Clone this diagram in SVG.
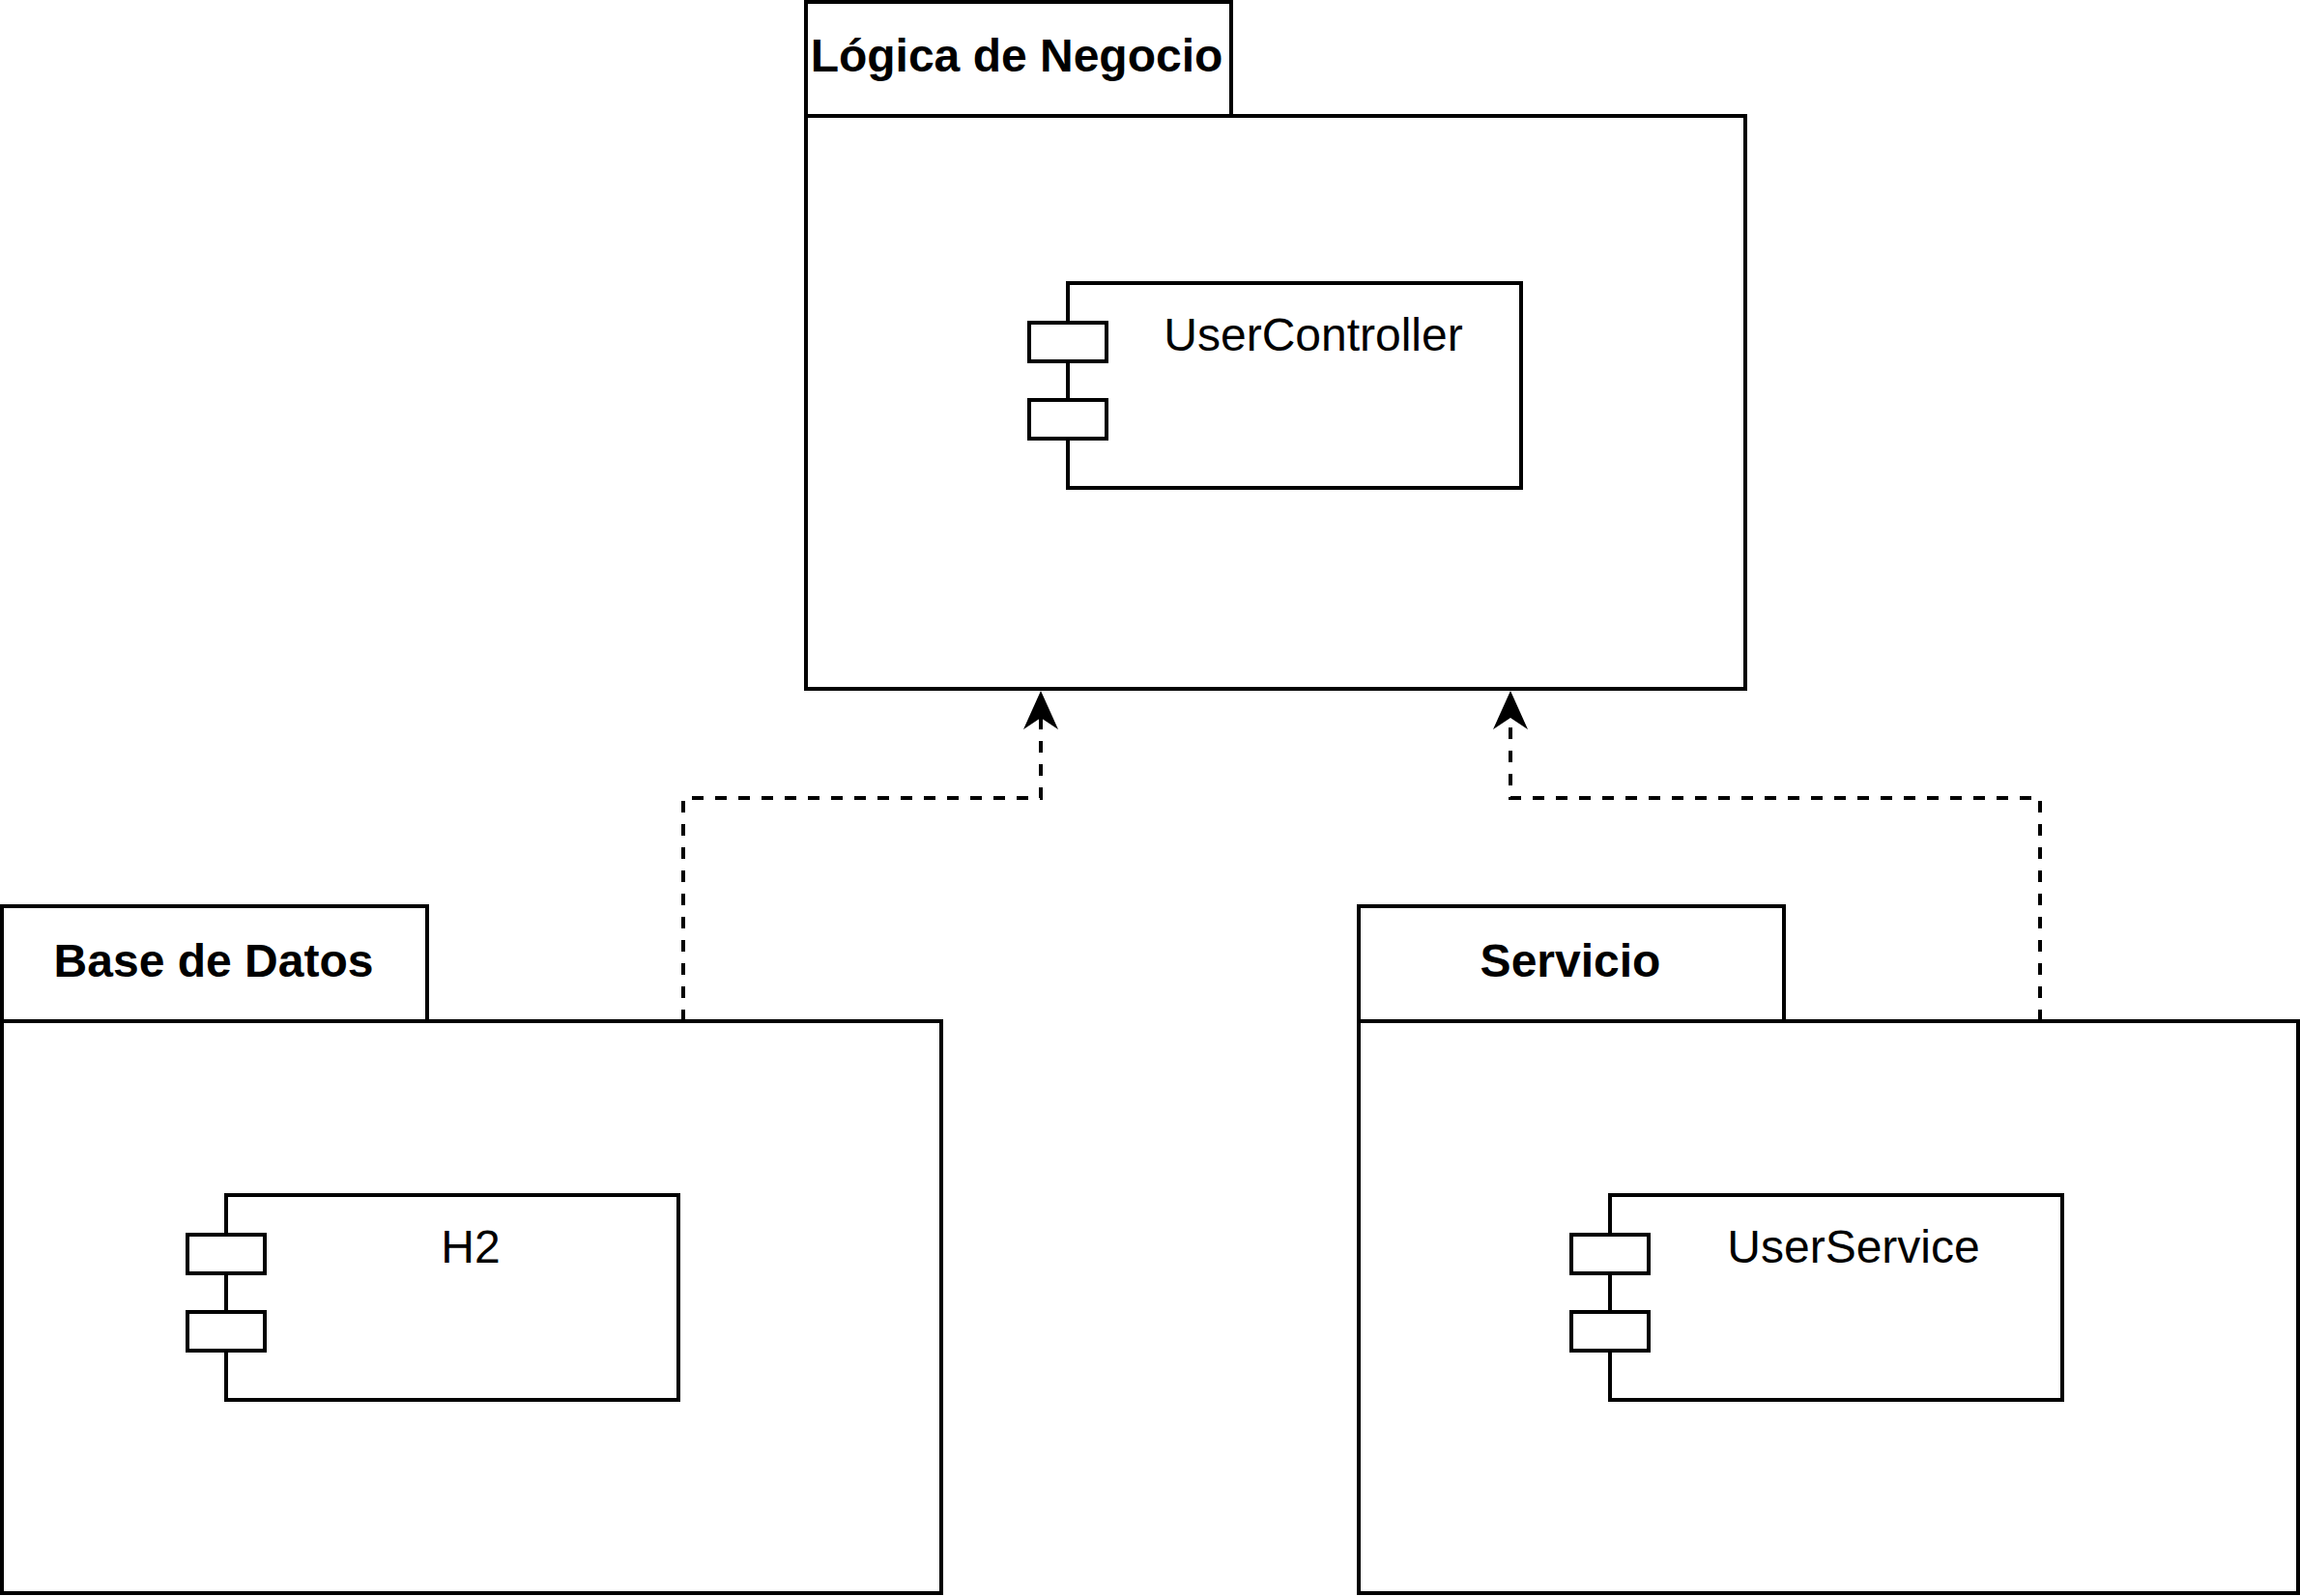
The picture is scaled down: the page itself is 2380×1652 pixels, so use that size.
<svg xmlns="http://www.w3.org/2000/svg" width="2380" height="1652" viewBox="0 0 2380 1652">
<style>
.box{fill:#fff;stroke:#000;stroke-width:4}
.pkg{font-family:"Liberation Sans",Arial,Helvetica,sans-serif;font-size:48px;font-weight:bold;fill:#000;text-anchor:middle}
.cmp{font-family:"Liberation Sans",Arial,Helvetica,sans-serif;font-size:48px;fill:#000;text-anchor:middle}
.dep{fill:none;stroke:#000;stroke-width:4;stroke-dasharray:12 12;marker-end:url(#arrow)}
</style>
<defs>
<marker id="arrow" markerUnits="userSpaceOnUse" viewBox="-14 -20 44 40" refX="0" refY="0" markerWidth="44" markerHeight="40" orient="auto">
<path d="M28,0 L-12,-18 L0,0 L-12,18 Z" fill="#000"/>
</marker>
</defs>
<rect width="2380" height="1652" fill="#fff"/>
<g id="pkg-logica">
<rect class="box" x="834" y="2" width="440" height="118"/>
<rect class="box" x="834" y="120" width="972" height="593"/>
<text class="pkg" x="1052" y="74">Lógica de Negocio</text>
</g>
<g id="cmp-usercontroller">
<rect class="box" x="1105" y="293" width="469" height="212"/>
<rect class="box" x="1065" y="334" width="80" height="40"/>
<rect class="box" x="1065" y="414" width="80" height="40"/>
<text class="cmp" x="1359" y="363">UserController</text>
</g>
<g id="pkg-base">
<rect class="box" x="2" y="938" width="440" height="119"/>
<rect class="box" x="2" y="1057" width="972" height="592"/>
<text class="pkg" x="221" y="1011">Base de Datos</text>
</g>
<g id="cmp-h2">
<rect class="box" x="234" y="1237" width="468" height="212"/>
<rect class="box" x="194" y="1278" width="80" height="40"/>
<rect class="box" x="194" y="1358" width="80" height="40"/>
<text class="cmp" x="487" y="1307">H2</text>
</g>
<g id="pkg-servicio">
<rect class="box" x="1406" y="938" width="440" height="119"/>
<rect class="box" x="1406" y="1057" width="972" height="592"/>
<text class="pkg" x="1625" y="1011">Servicio</text>
</g>
<g id="cmp-userservice">
<rect class="box" x="1666" y="1237" width="468" height="212"/>
<rect class="box" x="1626" y="1278" width="80" height="40"/>
<rect class="box" x="1626" y="1358" width="80" height="40"/>
<text class="cmp" x="1918" y="1307">UserService</text>
</g>
<g id="connectors">
<path class="dep" d="M707,1057 V826 H1077 V743"/>
<path class="dep" d="M2111,1057 V826 H1563 V743"/>
</g>
</svg>
